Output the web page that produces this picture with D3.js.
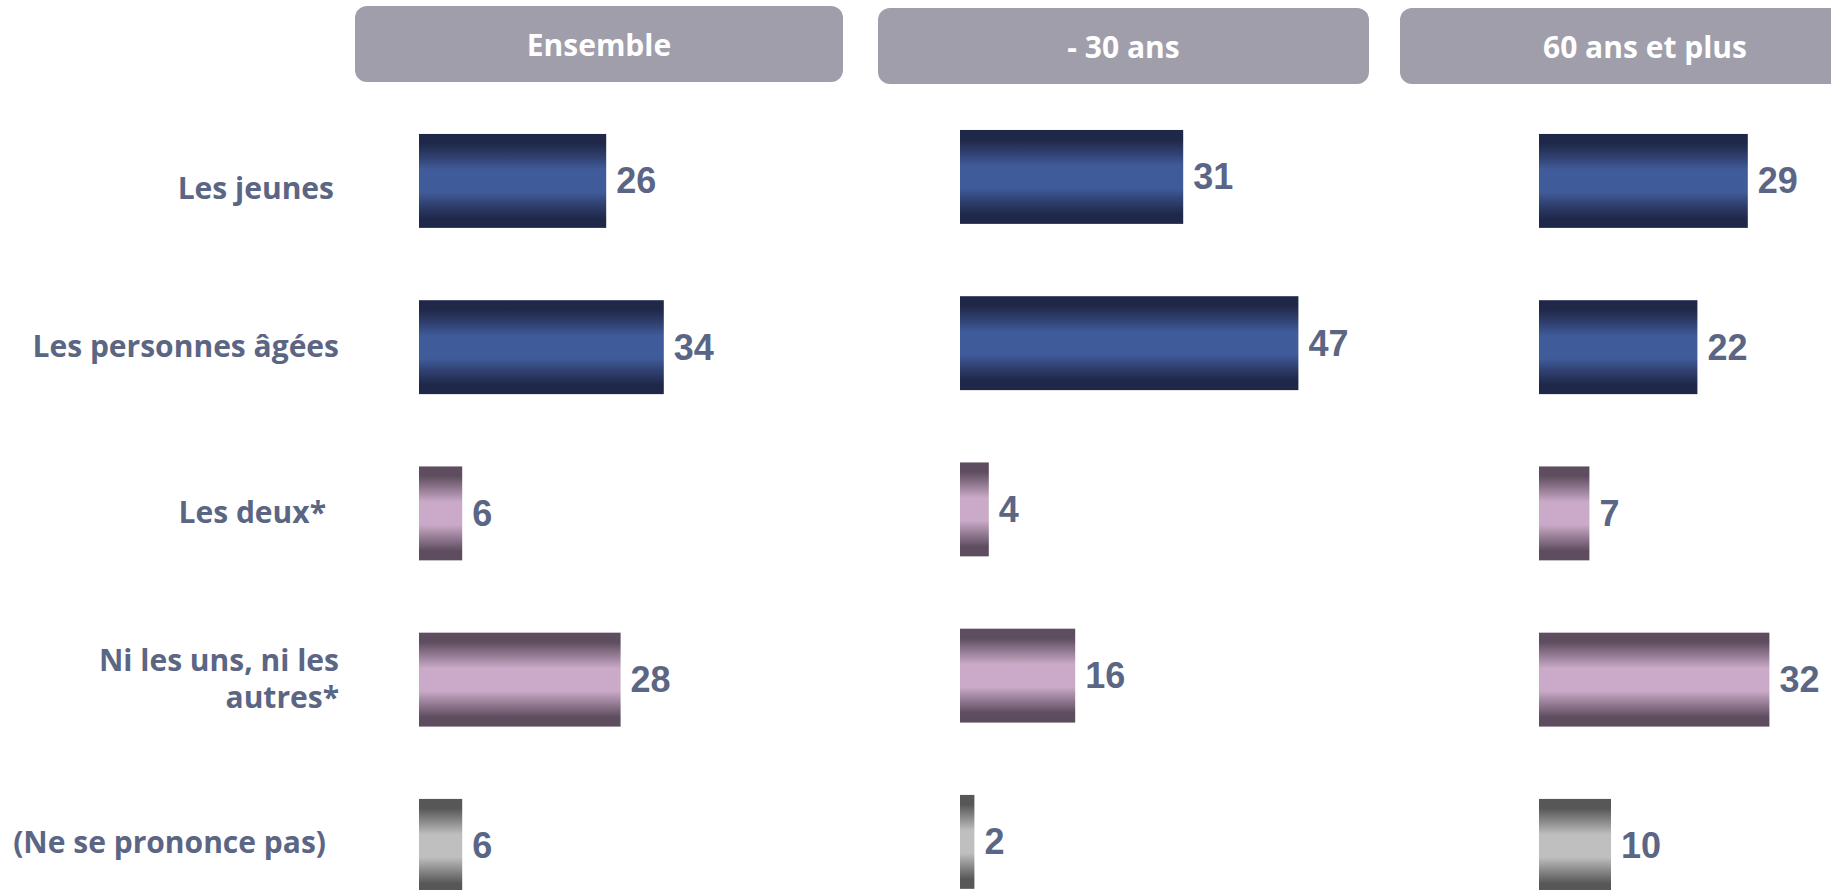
<!DOCTYPE html>
<html><head><meta charset="utf-8">
<script src="https://cdn.jsdelivr.net/npm/d3@7"></script>
<style>
html,body{margin:0;padding:0;background:#fff;overflow:hidden;}
svg{display:block;}
</style></head>
<body>
<script>
// ---- data ----
const categories = ["Les jeunes", "Les personnes âgées", "Les deux*", "Ni les uns, ni les autres*", "(Ne se prononce pas)"];
const categoryLines = [["Les jeunes"], ["Les personnes âgées"], ["Les deux*"], ["Ni les uns, ni les", "autres*"], ["(Ne se prononce pas)"]];
const groups = ["Ensemble", "- 30 ans", "60 ans et plus"];
const ensembleValues = [26, 34, 6, 28, 6];
const moins30Values = [31, 47, 4, 16, 2];
const plus60Values = [29, 22, 7, 32, 10];
const categoryKind = ["navy", "navy", "mauve", "mauve", "gray"];

// ---- layout ----
const W = 1831, H = 890;
const svg = d3.select("body").append("svg").attr("width", W).attr("height", H);

const gradients = {
  navy: {dark: "#1f2848", mid: "#2f3f6e", light: "#405b9a"},
  mauve: {dark: "#5e4c5f", mid: "#937b93", light: "#caaac8"},
  gray: {dark: "#575757", mid: "#8a8a8a", light: "#bfbfbf"}
};
const defs = svg.append("defs");
Object.entries(gradients).forEach(([k, c]) => {
  const g = defs.append("linearGradient").attr("id", "g-" + k)
    .attr("x1", 0).attr("y1", 0).attr("x2", 0).attr("y2", 1);
  [[0, c.dark], [0.1, c.dark], [0.24, c.mid], [0.38, c.light], [0.62, c.light], [0.76, c.mid], [0.9, c.dark], [1, c.dark]]
    .forEach(([o, col]) => g.append("stop").attr("offset", o).attr("stop-color", col));
});

const y = d3.scaleBand().domain(categories).range([97.8, 929]).paddingInner(0.435).paddingOuter(0.2175);
const x = d3.scaleLinear().domain([0, 100]).range([0, 720]);

const panels = [
  {name: groups[0], values: ensembleValues, bx: 419, dy: 0, hx0: 355, hx1: 843, hy: 6},
  {name: groups[1], values: moins30Values, bx: 960, dy: -4, hx0: 878, hx1: 1369, hy: 8},
  {name: groups[2], values: plus60Values, bx: 1539, dy: 0, hx0: 1400, hx1: 1890, hy: 8}
];

const labelColor = "#5b6584";
const labelDx = [-5, 0, -13, 0, -13];
const labelDy = [8, 0, 0, 0, -3];

// headers
panels.forEach(p => {
  svg.append("rect").attr("x", p.hx0).attr("y", p.hy).attr("width", p.hx1 - p.hx0).attr("height", 76)
    .attr("rx", 12).attr("fill", "#a09eab");
  svg.append("text").attr("x", (p.hx0 + p.hx1) / 2).attr("y", p.hy + 38)
    .attr("text-anchor", "middle").attr("dominant-baseline", "central")
    .attr("font-family", "'Open Sans', sans-serif").attr("font-weight", 700).attr("font-size", 30)
    .attr("fill", "#fff").text(p.name);
});

// category labels
const catG = svg.append("g");
categories.forEach((c, i) => {
  const lines = categoryLines[i];
  const cy = y(c) + y.bandwidth() / 2 + labelDy[i];
  const t = catG.append("text").attr("text-anchor", "end")
    .attr("font-family", "'Open Sans', sans-serif").attr("font-weight", 700).attr("font-size", 30)
    .attr("fill", labelColor);
  const lh = 37;
  lines.forEach((l, j) => {
    t.append("tspan").attr("x", 339 + labelDx[i])
      .attr("y", cy + (j - (lines.length - 1) / 2) * lh + 10).text(l);
  });
});

// bars
panels.forEach(p => {
  const g = svg.append("g").attr("transform", `translate(${p.bx},${p.dy})`);
  g.selectAll("rect").data(p.values).join("rect")
    .attr("x", 0).attr("y", (d, i) => y(categories[i]))
    .attr("width", d => x(d)).attr("height", y.bandwidth())
    .attr("fill", (d, i) => `url(#g-${categoryKind[i]})`);
  g.selectAll("text").data(p.values).join("text")
    .attr("x", d => x(d) + 10).attr("y", (d, i) => y(categories[i]) + y.bandwidth() / 2)
    .attr("dominant-baseline", "central")
    .attr("font-family", "'Liberation Sans', Arial, sans-serif").attr("font-weight", 700).attr("font-size", 36)
    .attr("fill", labelColor).text(d => d);
});
</script>
</body></html>
